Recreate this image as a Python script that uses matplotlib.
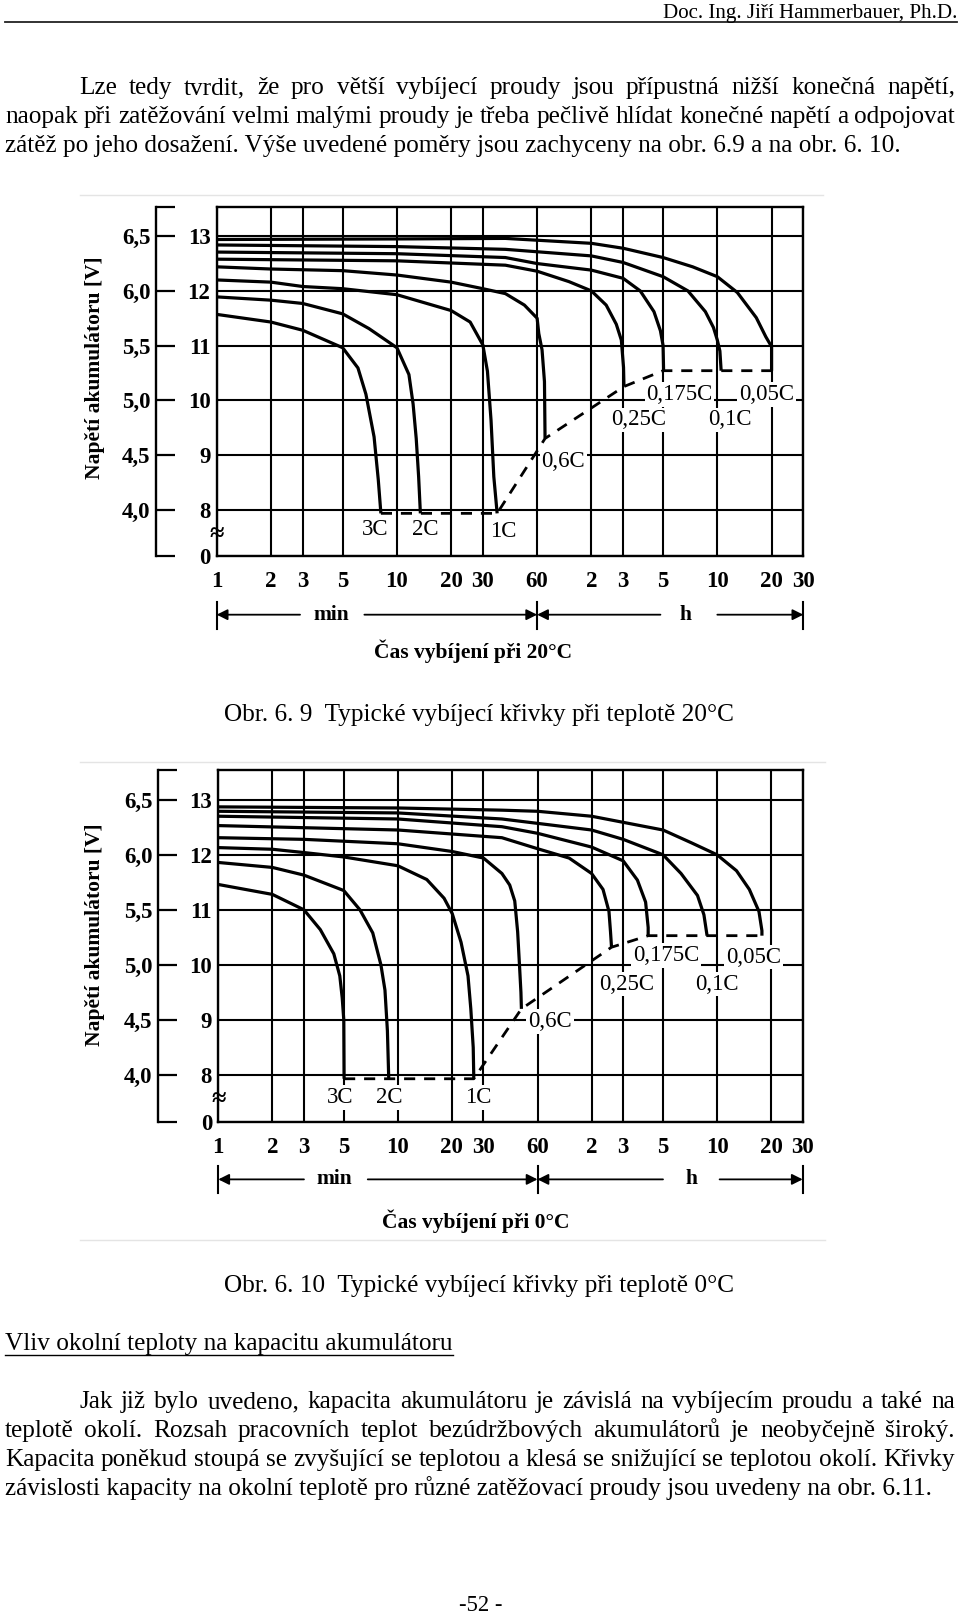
import matplotlib
matplotlib.use('Agg')
import matplotlib.pyplot as plt
from matplotlib.ticker import NullLocator

plt.rcParams['font.family'] = ['Liberation Serif', 'DejaVu Serif']

W, H = 960, 1613

# ---------------- data ----------------
x_ticks = [1, 2, 3, 5, 10, 20, 30, 60, 120, 180, 300, 600, 1200, 1800]
x_tick_labels = ['1', '2', '3', '5', '10', '20', '30', '60', '2', '3', '5', '10', '20', '30']
y_ticks_12v = [8, 9, 10, 11, 12, 13]
y_labels_12v = ['8', '9', '10', '11', '12', '13']
y_ticks_6v = [4.0, 4.5, 5.0, 5.5, 6.0, 6.5]
y_labels_6v = ['4,0', '4,5', '5,0', '5,5', '6,0', '6,5']
rates = ['3C', '2C', '1C', '0,6C', '0,25C', '0,175C', '0,1C', '0,05C']

# 20 °C discharge curves (time in minutes, voltage of 12 V battery)
t20_3C = [1, 2, 3, 5, 6.08, 6.73, 7.47, 7.88, 8.15]
v20_3C = [11.57, 11.43, 11.28, 10.96, 10.59, 10.11, 9.33, 8.55, 7.93]
t20_2C = [1, 2, 3, 5, 7, 10, 11.66, 12.3, 12.8, 13.2, 13.5]
v20_2C = [11.89, 11.83, 11.77, 11.58, 11.31, 10.96, 10.47, 9.93, 9.3, 8.6, 7.93]
t20_1C = [1, 2, 3, 5, 10, 20, 25.5, 30, 31.8, 33.3, 34.5, 36]
v20_1C = [12.20, 12.16, 12.08, 12.04, 11.93, 11.64, 11.43, 11.01, 10.53, 9.63, 8.6, 7.93]
t20_06C = [1, 2, 5, 10, 20, 30, 40, 51, 60, 61.3, 63.9, 65.9, 66.4]
v20_06C = [12.44, 12.40, 12.37, 12.29, 12.16, 12.04, 11.95, 11.74, 11.5, 11.22, 10.92, 10.34, 9.3]
t20_025C = [1, 10, 40, 60, 90, 120, 145, 165, 176, 181, 182]
v20_025C = [12.58, 12.55, 12.47, 12.36, 12.17, 12.0, 11.74, 11.39, 11.10, 10.6, 10.25]
t20_0175C = [1, 10, 40, 60, 120, 180, 224, 267, 290, 300, 302]
v20_0175C = [12.71, 12.68, 12.61, 12.5, 12.38, 12.23, 12.0, 11.62, 11.27, 11.0, 10.54]
t20_01C = [1, 10, 40, 120, 180, 300, 412, 515, 571, 600, 620, 630]
v20_01C = [12.84, 12.81, 12.76, 12.64, 12.52, 12.26, 12.0, 11.62, 11.33, 11.1, 10.9, 10.54]
t20_005C = [1, 10, 40, 120, 180, 300, 438, 600, 775, 987, 1115, 1200, 1200]
v20_005C = [12.94, 12.95, 12.96, 12.87, 12.78, 12.61, 12.44, 12.26, 11.97, 11.51, 11.16, 10.98, 10.54]
cut20_t = [8.15, 36, 66.4, 182, 300, 1200]
cut20_v = [7.93, 7.93, 9.3, 10.25, 10.54, 10.54]

# 0 °C discharge curves
t0_3C = [1, 2, 3, 3.7, 4.4, 4.75, 4.9, 5.0, 5.02]
v0_3C = [11.46, 11.28, 11.0, 10.64, 10.2, 9.8, 9.4, 9.0, 7.93]
t0_2C = [1, 2, 3, 5, 6.15, 7.25, 8.05, 8.48, 8.75, 8.9]
v0_2C = [11.86, 11.77, 11.63, 11.35, 11.0, 10.58, 10.0, 9.54, 8.8, 7.93]
t0_1C = [1, 2, 3, 5, 10, 14.5, 18.1, 20.1, 22.5, 24.6, 25.5, 26.3, 26.5]
v0_1C = [12.13, 12.10, 12.04, 11.96, 11.8, 11.55, 11.21, 10.93, 10.41, 9.8, 9.2, 8.5, 7.93]
t0_06C = [1, 3, 10, 20, 30, 38, 42, 44.8, 46.5, 47.6, 48.5, 48.8]
v0_06C = [12.31, 12.28, 12.2, 12.06, 11.94, 11.66, 11.45, 11.16, 10.6, 10.0, 9.5, 9.2]
t0_025C = [1, 10, 38, 60, 90, 120, 139, 150, 153, 155]
v0_025C = [12.53, 12.45, 12.31, 12.11, 11.94, 11.66, 11.37, 10.97, 10.6, 10.32]
t0_0175C = [1, 10, 38, 60, 120, 180, 216, 240, 248, 248]
v0_0175C = [12.70, 12.65, 12.51, 12.39, 12.14, 11.89, 11.54, 11.14, 10.68, 10.53]
t0_01C = [1, 10, 38, 120, 180, 300, 378, 467, 507, 528]
v0_01C = [12.79, 12.76, 12.65, 12.45, 12.28, 12.0, 11.66, 11.26, 10.91, 10.53]
t0_005C = [1, 10, 38, 60, 120, 300, 430, 600, 770, 908, 1027, 1067, 1067]
v0_005C = [12.87, 12.85, 12.81, 12.79, 12.70, 12.45, 12.22, 12.0, 11.71, 11.37, 10.97, 10.62, 10.53]
cut0_t = [5.02, 26.5, 48.8, 155, 248, 1067]
cut0_v = [7.93, 7.93, 9.2, 10.32, 10.53, 10.53]

curves20 = [(t20_3C, v20_3C), (t20_2C, v20_2C), (t20_1C, v20_1C), (t20_06C, v20_06C),
            (t20_025C, v20_025C), (t20_0175C, v20_0175C), (t20_01C, v20_01C), (t20_005C, v20_005C)]
curves0 = [(t0_3C, v0_3C), (t0_2C, v0_2C), (t0_1C, v0_1C), (t0_06C, v0_06C),
           (t0_025C, v0_025C), (t0_0175C, v0_0175C), (t0_01C, v0_01C), (t0_005C, v0_005C)]

# ---------------- text ----------------
header = 'Doc. Ing. Jiří Hammerbauer, Ph.D.'
para1 = ['Lze tedy tvrdit, že pro větší vybíjecí proudy jsou přípustná nižší konečná napětí,',
         'naopak při zatěžování velmi malými proudy je třeba pečlivě hlídat konečné napětí a odpojovat',
         'zátěž po jeho dosažení. Výše uvedené poměry jsou zachyceny na obr. 6.9 a na obr. 6. 10.']
caption1 = 'Obr. 6. 9  Typické vybíjecí křivky při teplotě 20°C'
caption2 = 'Obr. 6. 10  Typické vybíjecí křivky při teplotě 0°C'
heading = 'Vliv okolní teploty na kapacitu akumulátoru'
para2 = ['Jak již bylo uvedeno, kapacita akumulátoru je závislá na vybíjecím proudu a také na',
         'teplotě okolí. Rozsah pracovních teplot bezúdržbových akumulátorů je neobyčejně široký.',
         'Kapacita poněkud stoupá se zvyšující se teplotou a klesá se snižující se teplotou okolí. Křivky',
         'závislosti kapacity na okolní teplotě pro různé zatěžovací proudy jsou uvedeny na obr. 6.11.']
pagenum = '-52 -'

# ---------------- figure ----------------
fig = plt.figure(figsize=(W / 100, H / 100), dpi=100)
page = fig.add_axes([0, 0, 1, 1])
page.set_xlim(0, W)
page.set_ylim(H, 0)
page.axis('off')
renderer = fig.canvas.get_renderer()


def text_width(s, size, weight='normal'):
    t = page.text(0, 0, s, fontsize=size, fontweight=weight)
    w = t.get_window_extent(renderer).width
    t.remove()
    return w


body = 18 * 926.0 / text_width(para2[3], 18)


def draw_line(s, x0, x1, y, size, justify=True):
    if not justify:
        page.text(x0, y, s, ha='left', va='baseline', fontsize=size)
        return
    words = s.split(' ')
    widths = [text_width(wd, size) for wd in words]
    gap = (x1 - x0 - sum(widths)) / (len(words) - 1)
    x = x0
    for wd, w in zip(words, widths):
        page.text(x, y, wd, ha='left', va='baseline', fontsize=size)
        x += w + gap


# header
hsize = 16 * 295.0 / text_width(header, 16)
page.text(957, 18, header, ha='right', va='baseline', fontsize=hsize)
page.plot([5, 957], [22, 22], color='#222222', lw=1.3)

# paragraph 1
for i, (ln, y) in enumerate(zip(para1, [94, 123, 152])):
    x0 = 79 if i == 0 else 5
    draw_line(ln, x0, 955, y, body, justify=(i < len(para1) - 1))

# image frames (faint)
page.plot([80, 823], [195, 195], color='#e4e4e4', lw=1)
page.plot([80, 825], [762, 762], color='#e4e4e4', lw=1)
page.plot([80, 825], [1240, 1240], color='#e4e4e4', lw=1)

# captions
page.text(224, 721, caption1, ha='left', va='baseline', fontsize=body)
page.text(224, 1292, caption2, ha='left', va='baseline', fontsize=body)

# heading
page.text(5, 1350, heading, ha='left', va='baseline', fontsize=body)
hw = text_width(heading, body)
page.plot([5, 5 + hw], [1354.5, 1354.5], color='black', lw=1.0)

# paragraph 2
for i, (ln, y) in enumerate(zip(para2, [1408, 1437, 1466, 1495])):
    x0 = 79 if i == 0 else 5
    draw_line(ln, x0, 955, y, body, justify=(i < len(para2) - 1))

page.text(481, 1611, pagenum, ha='center', va='baseline', fontsize=body * 0.9)

# ---------------- charts ----------------
YLO, YHI = 7.15, 13.54
TICK_FS = 16.5
LAB_FS = 16.5


def draw_chart(box, curves, cut_t, cut_v, lab_pos, title, min_x, h_x,
               min_seg, h_seg, sec_loc, ylab_xy, title_xy, arrow_y, bar_y):
    l, t, r, b = box
    ax = fig.add_axes([l / W, 1 - b / H, (r - l) / W, (b - t) / H])
    ax.set_xscale('log')
    ax.set_xlim(1, 1800)
    ax.set_ylim(YLO, YHI)
    ax.set_axisbelow(True)
    ax.set_xticks(x_ticks, x_tick_labels, fontsize=TICK_FS, fontweight='bold')
    ax.xaxis.set_minor_locator(NullLocator())
    ax.set_yticks([YLO] + y_ticks_12v, ['0'] + y_labels_12v, fontsize=TICK_FS, fontweight='bold')
    ax.yaxis.set_minor_locator(NullLocator())
    ax.tick_params(axis='both', length=0)
    ax.tick_params(axis='x', pad=11)
    ax.tick_params(axis='y', pad=4.5)
    ax.grid(True, which='major', color='black', lw=1.5)
    for sp in ax.spines.values():
        sp.set_linewidth(1.7)

    for (tt, vv) in curves:
        ax.plot(tt, vv, color='black', lw=2.3, zorder=3,
                solid_joinstyle='round', solid_capstyle='butt')
    ax.plot(cut_t, cut_v, color='black', lw=2.0, ls=(0, (4, 3.2)), zorder=3)

    for name in rates:
        x, y = lab_pos[name]
        ax.text(x, y, name, ha='center', va='center', fontsize=LAB_FS, zorder=2.5,
                bbox=dict(boxstyle='square,pad=0.08', fc='white', ec='none'))

    # axis break mark
    ax.text(1, 7.55, '≈', ha='center', va='center', fontsize=19, fontweight='bold',
            clip_on=False, zorder=4)

    # secondary 6 V scale
    sec = ax.secondary_yaxis(sec_loc, functions=(lambda v: v / 2, lambda v: v * 2))
    sec.set_yticks([YLO / 2] + y_ticks_6v + [YHI / 2], [''] + y_labels_6v + [''],
                   fontsize=TICK_FS, fontweight='bold')
    sec.yaxis.set_minor_locator(NullLocator())
    sec.tick_params(axis='y', direction='in', length=13.5, width=1.6, pad=4)
    sec.spines['left'].set_linewidth(1.7)

    ax.text(ylab_xy[0], ylab_xy[1], 'Napětí akumulátoru [V]', transform=ax.transAxes,
            rotation=90, ha='center', va='center', fontsize=15.5, fontweight='bold')

    trans = ax.get_xaxis_transform()
    for xb in [1, 60, 1800]:
        ax.plot([xb, xb], bar_y, transform=trans, clip_on=False, color='black', lw=1.5)
    ap = dict(arrowstyle='-|>', color='black', lw=1.3, mutation_scale=16, shrinkA=0, shrinkB=0)
    for (xa, xb) in [(min_seg[0], 1), (min_seg[1], 60), (h_seg[0], 60), (h_seg[1], 1800)]:
        ax.annotate('', xy=(xb, arrow_y), xycoords=trans, xytext=(xa, arrow_y),
                    textcoords=trans, arrowprops=ap, annotation_clip=False)
    ax.text(min_x, arrow_y, 'min', transform=trans, ha='center', va='center',
            fontsize=15.5, fontweight='bold')
    ax.text(h_x, arrow_y, 'h', transform=trans, ha='center', va='center',
            fontsize=15.5, fontweight='bold')
    ax.text(title_xy[0], title_xy[1], title, transform=ax.transAxes, ha='center',
            va='center', fontsize=15.5, fontweight='bold')
    return ax


lab20 = {'3C': (7.53, 7.63), '2C': (14.4, 7.63), '1C': (38.8, 7.60), '0,6C': (83.9, 8.87),
         '0,25C': (220, 9.64), '0,175C': (370, 10.10), '0,1C': (708, 9.64), '0,05C': (1125, 10.10)}
lab0 = {'3C': (4.8, 7.59), '2C': (8.91, 7.59), '1C': (27.9, 7.59), '0,6C': (70.3, 8.97),
        '0,25C': (187.7, 9.65), '0,175C': (313, 10.17), '0,1C': (598, 9.65), '0,05C': (957, 10.14)}

draw_chart((216.7, 206.7, 803.3, 556), curves20, cut20_t, cut20_v, lab20,
           'Čas vybíjení při 20°C', 4.3, 400, (2.9, 6.6), (290, 600),
           -0.1035, (-0.2075, 0.538), (0.437, -0.272), -0.168, [-0.133, -0.209])
draw_chart((218.3, 770, 802.7, 1121.7), curves0, cut0_t, cut0_v, lab0,
           'Čas vybíjení při 0°C', 4.45, 430, (3.0, 6.8), (300, 620),
           -0.1027, (-0.211, 0.531), (0.441, -0.282), -0.164, [-0.127, -0.204])

fig.savefig('out.png', dpi=100)
